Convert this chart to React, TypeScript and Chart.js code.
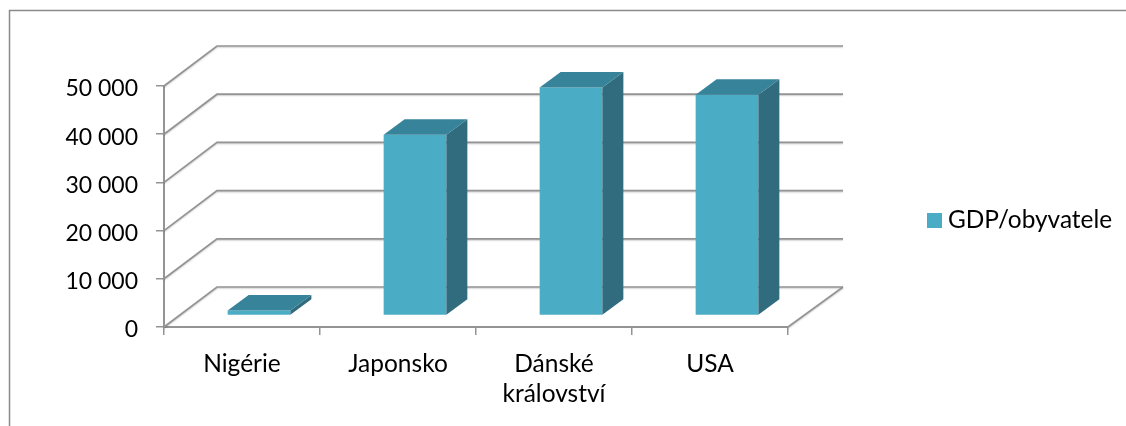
import React, { useEffect, useRef } from "react";
import { Chart, registerables } from "chart.js";

Chart.register(...registerables);

const categories: (string | string[])[] = ["Nigérie", "Japonsko", ["Dánské", "království"], "USA"];
const gdpValues = [1050, 37500, 47300, 45800];
const seriesName = "GDP/obyvatele";

const FONT = "Lato";
const GRID = "#949494";
const FRONT = "#4bacc6";
const TOP = "#37839a";
const SIDE = "#316c7e";
const WALL_DX = 53;
const WALL_DY = 40;
const WALL_RIGHT = 843;
const BAR_DX = 17;
const BAR_DY = 11.5;
const DEPTH_DX = 21;
const DEPTH_DY = 15.5;

const fmt = (v: number) => String(v).replace(/\B(?=(\d{3})+$)/g, " ");

const threeD = {
  id: "threeD",
  afterLayout(chart: any) {
    const lg = chart.legend;
    if (lg) {
      lg.left = 923.2;
      lg.right = 923.2 + lg.width;
      lg.top = 198.3;
      lg.bottom = 198.3 + lg.height;
    }
  },
  beforeDraw(chart: any) {
    const { ctx } = chart;
    ctx.save();
    ctx.strokeStyle = "#8a8a8a";
    ctx.lineWidth = 1.5;
    ctx.beginPath();
    ctx.moveTo(9.5, 426);
    ctx.lineTo(9.5, 10.5);
    ctx.lineTo(1126, 10.5);
    ctx.stroke();
    ctx.restore();
  },
  beforeDatasetsDraw(chart: any) {
    const { ctx, chartArea, scales } = chart;
    const { left, right } = chartArea;
    ctx.save();
    ctx.strokeStyle = GRID;
    ctx.lineWidth = 1.7;
    ctx.shadowColor = "rgba(0,0,0,0.2)";
    ctx.shadowBlur = 1.5;
    ctx.shadowOffsetY = 1;
    scales.y.ticks.forEach((t: any) => {
      const y = scales.y.getPixelForValue(t.value);
      ctx.beginPath();
      ctx.moveTo(left, y);
      ctx.lineTo(left + WALL_DX, y - WALL_DY);
      ctx.lineTo(WALL_RIGHT, y - WALL_DY);
      ctx.stroke();
    });
    const y0 = scales.y.getPixelForValue(0);
    ctx.beginPath();
    ctx.moveTo(right, y0);
    ctx.lineTo(WALL_RIGHT, y0 - WALL_DY);
    ctx.stroke();
    ctx.restore();
    ctx.save();
    ctx.translate(BAR_DX, -BAR_DY);
  },
  afterDatasetsDraw(chart: any) {
    const { ctx } = chart;
    chart.getDatasetMeta(0).data.forEach((bar: any) => {
      const l = bar.x - bar.width / 2;
      const r = bar.x + bar.width / 2;
      const t = bar.y;
      const b = bar.base;
      ctx.fillStyle = SIDE;
      ctx.beginPath();
      ctx.moveTo(r, t);
      ctx.lineTo(r + DEPTH_DX, t - DEPTH_DY);
      ctx.lineTo(r + DEPTH_DX, b - DEPTH_DY);
      ctx.lineTo(r, b);
      ctx.closePath();
      ctx.fill();
      ctx.fillStyle = TOP;
      ctx.beginPath();
      ctx.moveTo(l, t);
      ctx.lineTo(l + DEPTH_DX, t - DEPTH_DY);
      ctx.lineTo(r + DEPTH_DX, t - DEPTH_DY);
      ctx.lineTo(r, t);
      ctx.closePath();
      ctx.fill();
    });
    ctx.restore();
  },
};

export default function App() {
  const ref = useRef<HTMLCanvasElement>(null);
  useEffect(() => {
    const chart = new Chart(ref.current!, {
      type: "bar",
      data: {
        labels: categories as any,
        datasets: [
          {
            label: seriesName,
            data: gdpValues,
            backgroundColor: FRONT,
            borderWidth: 0,
            barPercentage: 0.402,
            categoryPercentage: 1,
          },
        ],
      },
      options: {
        responsive: false,
        animation: false,
        layout: { padding: { top: 86, right: 338, left: 0, bottom: 0 } },
        plugins: {
          title: { display: false },
          tooltip: { enabled: false },
          legend: {
            position: "chartArea",
            align: "start",
            labels: {
              usePointStyle: true,
              pointStyle: "rect",
              boxWidth: 2.6,
              boxHeight: 15,
              color: "#000",
              font: { family: FONT, size: 24.4 },
            },
          },
        },
        scales: {
          x: {
            afterFit: (s: any) => { s.height = 99; },
            grid: {
              offset: true,
              drawOnChartArea: false,
              color: GRID,
              lineWidth: 1.5,
              tickLength: 8,
            },
            border: { color: GRID, width: 2 },
            ticks: {
              color: "#000",
              padding: 14,
              maxRotation: 0,
              autoSkip: false,
              font: { family: FONT, size: 24.5, lineHeight: 1.22 },
            },
          },
          y: {
            min: 0,
            max: 50000,
            afterFit: (s: any) => { s.width = 164; },
            grid: {
              drawOnChartArea: false,
              color: GRID,
              lineWidth: 1.5,
              tickLength: 8,
            },
            border: { color: GRID, width: 2 },
            ticks: {
              stepSize: 10000,
              color: "#000",
              padding: 18,
              labelOffset: 3,
              callback: (v: any) => fmt(Number(v)),
              font: { family: FONT, size: 23 },
            },
          },
        },
      },
      plugins: [threeD],
    } as any);
    return () => chart.destroy();
  }, []);
  return (
    <canvas
      ref={ref}
      width={1126}
      height={426}
      style={{ position: "absolute", left: 0, top: 0, display: "block" }}
    />
  );
}
